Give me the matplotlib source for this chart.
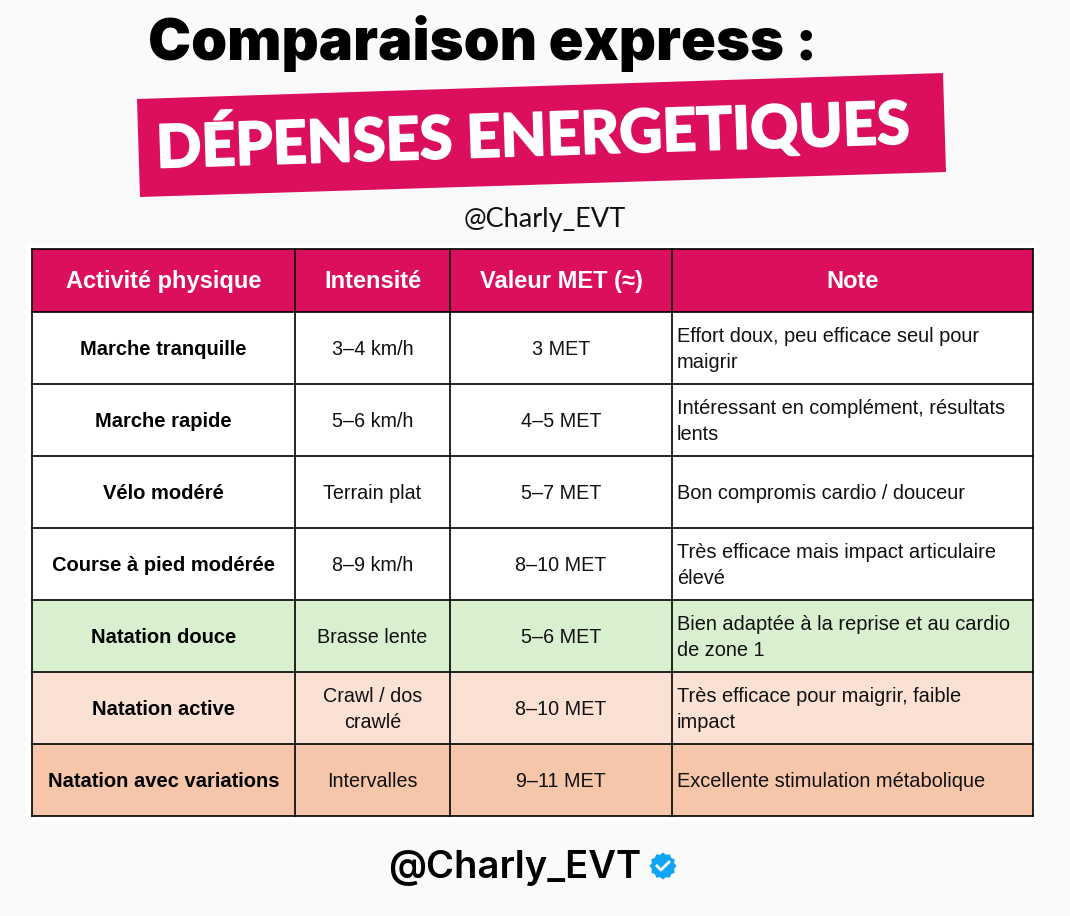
import numpy as np
import matplotlib
matplotlib.use('Agg')
import matplotlib.pyplot as plt
import matplotlib.patheffects as pe
from matplotlib.patches import Polygon, Rectangle

# Contenu du tableau
headers = ['Activité physique', 'Intensité', 'Valeur MET (≈)', 'Note']
activites = ['Marche tranquille', 'Marche rapide', 'Vélo modéré', 'Course à pied modérée',
             'Natation douce', 'Natation active', 'Natation avec variations']
intensites = ['3–4 km/h', '5–6 km/h', 'Terrain plat', '8–9 km/h',
              'Brasse lente', 'Crawl / dos\ncrawlé', 'Intervalles']
valeurs_met = ['3 MET', '4–5 MET', '5–7 MET', '8–10 MET', '5–6 MET', '8–10 MET', '9–11 MET']
notes = ['Effort doux, peu efficace seul pour\nmaigrir',
         'Intéressant en complément, résultats\nlents',
         'Bon compromis cardio / douceur',
         'Très efficace mais impact articulaire\nélevé',
         'Bien adaptée à la reprise et au cardio\nde zone 1',
         'Très efficace pour maigrir, faible\nimpact',
         'Excellente stimulation métabolique']
couleurs = ['white', 'white', 'white', 'white', '#d9f0d0', '#fbe0d4', '#f5c6aa']

# Grille en pixels
col_x = [32, 295, 450, 672, 1033]
row_y = [249, 312, 384, 456, 528, 600, 672, 744, 816]
ROSE = '#dc0f5f'
TABLE_FONT = 'Liberation Sans'

fig = plt.figure(figsize=(10.7, 9.16), dpi=100, facecolor='#fafafa')
ax = fig.add_axes([0, 0, 1, 1])
ax.set_xlim(0, 1070)
ax.set_ylim(916, 0)
ax.axis('off')

# Titre et bandeau
ax.text(148, 44, 'Comparaison express :', fontsize=41.5, family='Inter', weight='black',
        color='black', ha='left', va='center')
ax.add_patch(Polygon([(137, 99), (943, 73), (946, 172), (140, 197)], closed=True,
                     facecolor=ROSE, edgecolor='none'))
ax.text(533, 133, 'DÉPENSES ENERGETIQUES', fontsize=42.8, family='Lato', weight='black',
        color='white', ha='center', va='center', rotation=1.85, rotation_mode='anchor',
        path_effects=[pe.withStroke(linewidth=1.2, foreground='white')])
ax.text(545, 220, '@Charly_EVT', fontsize=19.5, family='Lato', color='#111111',
        ha='center', va='center')

# Fond blanc du tableau
ax.add_patch(Rectangle((26, 244), 1012, 578, facecolor='white', edgecolor='none'))

# Cellules
for i in range(len(row_y) - 1):
    top, bottom = row_y[i], row_y[i + 1]
    fond = ROSE if i == 0 else couleurs[i - 1]
    ax.add_patch(Rectangle((col_x[0], top), col_x[-1] - col_x[0], bottom - top,
                           facecolor=fond, edgecolor='none', zorder=1))
    ax.plot([col_x[0], col_x[-1]], [top, top], color='black', lw=1.2, zorder=3)
ax.plot([col_x[0], col_x[-1]], [row_y[-1], row_y[-1]], color='black', lw=1.2, zorder=3)
for x in col_x:
    ax.plot([x, x], [row_y[0], row_y[-1]], color='black', lw=1.2, zorder=3)

# En-tetes
for j, h in enumerate(headers):
    ax.text((col_x[j] + col_x[j + 1]) / 2, 288, h, fontsize=17,
            family=TABLE_FONT, weight='bold', color='white', ha='center', va='baseline', zorder=4)

# Lignes du tableau
for i in range(len(activites)):
    yc = (row_y[i + 1] + row_y[i + 2]) / 2 + 1.5
    ax.text((col_x[0] + col_x[1]) / 2, yc, activites[i], fontsize=14.5, family=TABLE_FONT,
            weight='bold', color='black', ha='center', va='center', zorder=4)
    ax.text((col_x[1] + col_x[2]) / 2, yc, intensites[i], fontsize=14.2, family=TABLE_FONT,
            color='#111111', ha='center', va='center', linespacing=1.5, zorder=4)
    ax.text((col_x[2] + col_x[3]) / 2, yc, valeurs_met[i], fontsize=14.2, family=TABLE_FONT,
            color='#111111', ha='center', va='center', zorder=4)
    ax.text(col_x[3] + 5, yc, notes[i], fontsize=14.4, family=TABLE_FONT,
            color='#111111', ha='left', va='center', linespacing=1.5, zorder=4)

# Signature et badge
ax.text(515, 868, '@Charly_EVT', fontsize=27.5, family='Inter', weight='semibold', color='black',
        ha='center', va='center')
angles = np.linspace(0, 2 * np.pi, 24, endpoint=False)
rayons = np.where(np.arange(24) % 2 == 0, 13.5, 11.5)
ax.add_patch(Polygon(np.column_stack([663 + rayons * np.cos(angles), 866 + rayons * np.sin(angles)]),
                     closed=True, facecolor='#0ea5f5', edgecolor='none'))
ax.plot([657, 661, 669], [866, 870, 862], color='white', lw=2)

fig.savefig('out.png', dpi=100, facecolor=fig.get_facecolor())
